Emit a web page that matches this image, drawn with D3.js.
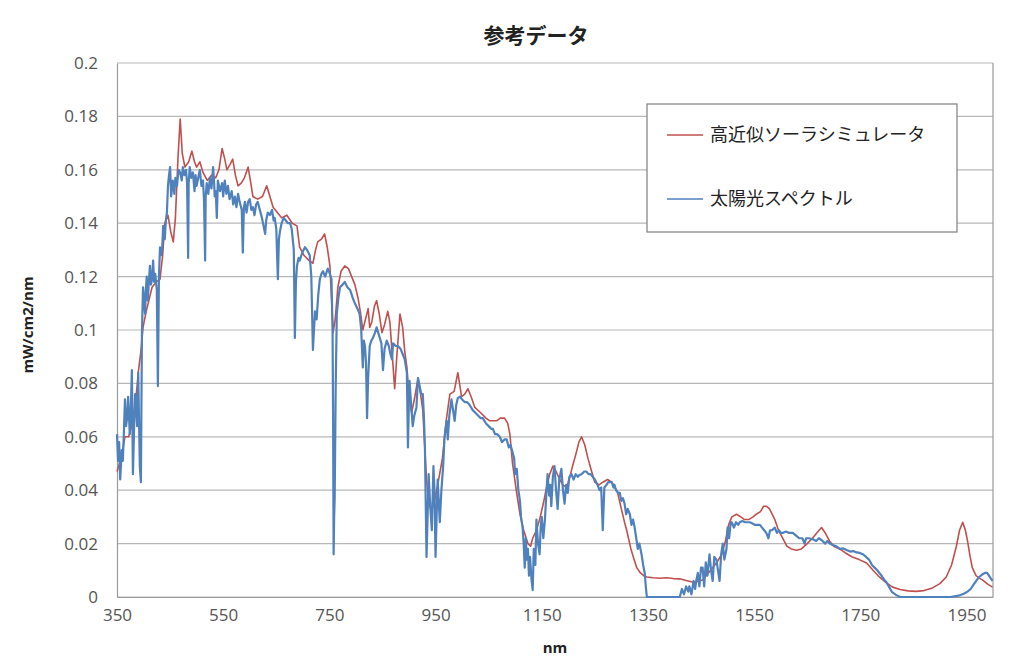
<!DOCTYPE html>
<meta charset="utf-8" />
<script src="https://cdn.jsdelivr.net/npm/d3@7"></script>
<style>
  body { margin: 0; background: #fff; }
  text { font-family: "Open Sans", "Noto Sans", sans-serif; }
  .jp { font-family: "Noto Sans CJK JP", "Noto Sans", sans-serif; }
</style>
<div id="chart"></div>
<script>
  // series names
  const seriesNames = ["高近似ソーラシミュレータ", "太陽光スペクトル"];

  // ticks
  const xTicks = [350, 550, 750, 950, 1150, 1350, 1550, 1750, 1950];
  const yTicks = [0, 0.02, 0.04, 0.06, 0.08, 0.1, 0.12, 0.14, 0.16, 0.18, 0.2];

  // simulator (red) - wavelength nm / mW/cm2/nm
  const simNm = [350,358,365,372,380,386,390,395,399,405,410,416,424,431,436,440,446,451,456,460,465,469,473,478,485,491,496,500,506,512,520,528,536,542,548,553,557,563,568,573,578,584,590,597,602,606,615,624,632,638,644,652,660,670,680,689,694,702,712,719,724,728,735,741,746,751,755,757,761,766,772,779,786,792,798,804,809,813,818,823,826,830,835,839,844,849,854,860,864,868,873,877,883,888,892,896,900,905,911,917,921,926,930,933,937,942,948,955,963,970,977,985,992,996,999,1005,1011,1017,1024,1035,1045,1052,1060,1065,1072,1080,1086,1090,1095,1102,1109,1116,1124,1129,1133,1140,1146,1153,1159,1165,1171,1177,1184,1190,1197,1203,1208,1215,1220,1225,1231,1237,1244,1250,1258,1265,1274,1282,1288,1293,1300,1306,1310,1318,1324,1329,1336,1342,1348,1360,1372,1385,1398,1410,1422,1434,1443,1453,1462,1472,1480,1489,1496,1502,1508,1517,1525,1532,1540,1548,1554,1562,1568,1573,1579,1584,1589,1596,1604,1612,1620,1630,1639,1650,1660,1668,1677,1684,1692,1700,1711,1722,1735,1748,1762,1774,1786,1798,1811,1825,1840,1855,1870,1886,1900,1912,1922,1931,1937,1943,1948,1952,1957,1961,1968,1975,1980,1990,1999];
  const simVal = [0.047,0.052,0.060,0.060,0.066,0.075,0.084,0.092,0.101,0.107,0.111,0.116,0.118,0.119,0.128,0.140,0.143,0.137,0.133,0.142,0.165,0.179,0.166,0.161,0.163,0.167,0.163,0.161,0.163,0.159,0.156,0.158,0.157,0.160,0.168,0.164,0.160,0.162,0.164,0.158,0.154,0.155,0.157,0.161,0.155,0.150,0.149,0.150,0.154,0.150,0.146,0.144,0.142,0.143,0.140,0.139,0.131,0.128,0.126,0.125,0.130,0.133,0.134,0.136,0.131,0.124,0.108,0.099,0.104,0.116,0.122,0.124,0.123,0.120,0.117,0.112,0.106,0.100,0.104,0.108,0.101,0.103,0.109,0.111,0.106,0.099,0.102,0.107,0.103,0.092,0.078,0.090,0.106,0.101,0.092,0.086,0.076,0.069,0.075,0.082,0.077,0.070,0.055,0.044,0.036,0.032,0.036,0.043,0.052,0.066,0.076,0.077,0.084,0.079,0.075,0.076,0.078,0.075,0.071,0.069,0.067,0.066,0.066,0.066,0.067,0.067,0.065,0.061,0.050,0.040,0.031,0.025,0.020,0.019,0.022,0.025,0.029,0.035,0.041,0.046,0.049,0.047,0.044,0.042,0.041,0.045,0.049,0.054,0.058,0.060,0.057,0.052,0.047,0.043,0.042,0.043,0.044,0.043,0.041,0.039,0.033,0.028,0.025,0.018,0.014,0.011,0.009,0.008,0.0075,0.0072,0.007,0.0072,0.0069,0.0068,0.0062,0.0056,0.0058,0.0064,0.0085,0.011,0.013,0.016,0.021,0.027,0.030,0.031,0.030,0.029,0.029,0.030,0.031,0.032,0.034,0.034,0.033,0.031,0.029,0.025,0.022,0.019,0.018,0.0175,0.018,0.020,0.022,0.024,0.026,0.024,0.021,0.019,0.018,0.0165,0.015,0.014,0.0127,0.010,0.0075,0.0055,0.0037,0.0028,0.0023,0.0021,0.0024,0.0034,0.005,0.0075,0.012,0.019,0.025,0.028,0.025,0.021,0.015,0.011,0.008,0.007,0.0064,0.0048,0.0037];

  // solar spectrum (blue)
  const sunNm = [350,352,354,356,359,361,363,365,367,369,371,373,374,376,378,380,382,384,386,388,390,392,393,395,397,399,401,403,404,406,408,410,412,414,416,418,420,422,424,425,427,429,431,433,435,437,439,440,442,444,446,448,450,452,453,455,458,460,463,466,469,472,474,477,480,482,484,485,487,490,493,496,498,500,503,506,509,512,514,516,517,519,522,525,528,531,533,534,536,538,540,544,548,550,553,556,559,562,566,569,572,575,578,581,585,587,589,591,594,597,600,603,606,609,612,615,619,623,626,629,631,634,638,642,645,647,650,653,655,657,660,664,668,672,676,679,681,683,685,687,689,692,694,699,704,708,713,716,719,721,723,726,729,732,735,738,742,747,751,754,756,757,758,759,760,762,764,767,770,775,779,784,789,794,798,803,807,810,813,815,817,819,821,823,826,829,832,836,839,842,845,848,851,854,858,862,865,868,870,875,879,884,888,892,896,898,900,901,904,907,910,914,917,920,923,926,928,930,933,935,937,940,943,946,948,950,952,954,956,958,961,964,967,971,973,976,980,983,986,989,992,996,1000,1005,1009,1014,1020,1025,1030,1035,1039,1045,1050,1055,1058,1062,1066,1071,1075,1080,1084,1088,1091,1094,1098,1100,1103,1106,1109,1111,1114,1116,1118,1120,1122,1124,1126,1128,1131,1133,1135,1138,1140,1143,1146,1148,1150,1153,1156,1158,1161,1164,1166,1168,1171,1174,1177,1180,1183,1187,1190,1193,1196,1199,1202,1206,1210,1214,1218,1221,1225,1230,1234,1238,1242,1246,1250,1255,1259,1262,1265,1267,1268,1272,1275,1278,1282,1285,1287,1290,1294,1297,1300,1303,1306,1309,1312,1316,1319,1322,1325,1328,1331,1334,1338,1341,1344,1346,1348,1380,1410,1414,1418,1422,1426,1428,1432,1436,1439,1441,1444,1447,1450,1453,1456,1459,1462,1466,1469,1472,1475,1479,1482,1485,1488,1491,1494,1498,1500,1503,1506,1508,1512,1516,1520,1523,1528,1533,1538,1542,1547,1552,1556,1561,1565,1569,1573,1577,1580,1584,1589,1593,1597,1600,1604,1610,1616,1623,1629,1635,1641,1645,1648,1653,1660,1667,1672,1679,1684,1688,1693,1698,1705,1712,1718,1724,1731,1737,1743,1749,1755,1761,1767,1772,1777,1782,1786,1790,1795,1799,1805,1810,1818,1825,1870,1920,1935,1945,1952,1958,1964,1970,1974,1980,1985,1989,1994,1999];
  const sunVal = [0.061,0.051,0.058,0.044,0.055,0.051,0.062,0.074,0.064,0.067,0.075,0.066,0.061,0.070,0.085,0.046,0.062,0.076,0.071,0.064,0.084,0.060,0.049,0.043,0.099,0.116,0.110,0.106,0.114,0.120,0.111,0.118,0.124,0.117,0.119,0.126,0.118,0.121,0.117,0.115,0.079,0.120,0.131,0.128,0.130,0.139,0.135,0.134,0.141,0.144,0.154,0.158,0.161,0.150,0.152,0.156,0.151,0.157,0.154,0.160,0.159,0.156,0.161,0.158,0.160,0.155,0.127,0.155,0.161,0.157,0.159,0.152,0.158,0.154,0.157,0.160,0.154,0.156,0.148,0.126,0.150,0.155,0.151,0.157,0.153,0.161,0.155,0.150,0.152,0.142,0.156,0.152,0.155,0.150,0.156,0.151,0.154,0.149,0.152,0.147,0.150,0.146,0.151,0.148,0.145,0.129,0.146,0.148,0.144,0.148,0.149,0.145,0.146,0.143,0.147,0.148,0.145,0.142,0.139,0.136,0.141,0.144,0.143,0.145,0.141,0.142,0.138,0.119,0.134,0.137,0.140,0.142,0.141,0.140,0.140,0.138,0.134,0.130,0.097,0.118,0.124,0.127,0.126,0.129,0.131,0.130,0.128,0.120,0.0925,0.100,0.107,0.104,0.113,0.119,0.121,0.122,0.120,0.123,0.121,0.119,0.100,0.069,0.016,0.030,0.037,0.080,0.106,0.112,0.116,0.117,0.118,0.116,0.115,0.112,0.110,0.108,0.106,0.100,0.086,0.096,0.094,0.088,0.067,0.082,0.094,0.096,0.097,0.099,0.101,0.099,0.097,0.095,0.085,0.093,0.096,0.094,0.091,0.089,0.095,0.094,0.094,0.093,0.091,0.089,0.084,0.056,0.075,0.081,0.072,0.064,0.068,0.071,0.082,0.079,0.076,0.076,0.068,0.056,0.015,0.030,0.046,0.034,0.025,0.049,0.040,0.015,0.030,0.044,0.036,0.028,0.040,0.048,0.060,0.066,0.059,0.068,0.074,0.070,0.066,0.072,0.0745,0.075,0.074,0.073,0.073,0.072,0.070,0.069,0.068,0.067,0.067,0.065,0.064,0.063,0.063,0.061,0.061,0.060,0.058,0.059,0.059,0.056,0.057,0.055,0.052,0.046,0.048,0.040,0.036,0.030,0.026,0.020,0.011,0.022,0.014,0.018,0.008,0.015,0.006,0.0026,0.018,0.012,0.029,0.020,0.016,0.026,0.030,0.022,0.029,0.036,0.046,0.038,0.042,0.034,0.045,0.049,0.040,0.033,0.044,0.048,0.040,0.035,0.042,0.039,0.045,0.046,0.044,0.046,0.045,0.0457,0.046,0.047,0.047,0.046,0.046,0.045,0.044,0.042,0.040,0.041,0.025,0.036,0.041,0.042,0.043,0.043,0.043,0.041,0.042,0.040,0.039,0.039,0.036,0.037,0.035,0.031,0.033,0.031,0.027,0.029,0.026,0.022,0.018,0.020,0.016,0.012,0.009,0.004,0,0,0,0.003,0.001,0.004,0.002,0.004,0.001,0.006,0.003,0.006,0.009,0.004,0.011,0.011,0.004,0.013,0.008,0.016,0.010,0.006,0.015,0.014,0.010,0.006,0.016,0.020,0.014,0.018,0.026,0.022,0.028,0.028,0.026,0.028,0.027,0.028,0.0285,0.028,0.028,0.028,0.0275,0.027,0.027,0.027,0.026,0.025,0.024,0.022,0.025,0.025,0.026,0.024,0.025,0.024,0.024,0.0245,0.024,0.024,0.023,0.022,0.022,0.020,0.022,0.022,0.0217,0.021,0.022,0.021,0.020,0.021,0.020,0.0195,0.019,0.018,0.0182,0.0176,0.017,0.0172,0.0167,0.0165,0.016,0.015,0.0139,0.012,0.011,0.010,0.009,0.008,0.0065,0.0056,0.0035,0.0018,0.0007,0,0,0,0.0005,0.0012,0.002,0.003,0.0048,0.0065,0.0075,0.0085,0.009,0.009,0.0075,0.006];

  const colors = ["#C0504D", "#4F81BD"];

  const W = 1024, H = 665;
  const margin = { top: 63, right: 31, bottom: 68, left: 117 },
    width = W - margin.left - margin.right,
    height = H - margin.top - margin.bottom;

  const svg = d3.select("#chart").append("svg")
    .attr("width", W).attr("height", H);

  const g = svg.append("g")
    .attr("transform", `translate(${margin.left},${margin.top})`);

  const x = d3.scaleLinear().domain([350, 2000]).range([0, width]);
  const y = d3.scaleLinear().domain([0, 0.2]).range([height, 0]);

  // gridlines
  g.append("g")
    .selectAll("line")
    .data(yTicks)
    .join("line")
    .attr("x1", 0).attr("x2", width)
    .attr("y1", d => y(d)).attr("y2", d => y(d))
    .attr("stroke", "#b8b8b8").attr("stroke-width", 1.2);

  // plot border (right edge)
  g.append("line")
    .attr("x1", width).attr("x2", width)
    .attr("y1", 0).attr("y2", height)
    .attr("stroke", "#9a9a9a").attr("stroke-width", 1.2);

  // y axis
  const yAxis = g.append("g")
    .call(d3.axisLeft(y).tickValues(yTicks).tickSize(0).tickPadding(19)
      .tickFormat(d => String(+d.toFixed(2))));
  yAxis.select(".domain").attr("stroke", "#9a9a9a").attr("stroke-width", 1.2);
  yAxis.selectAll("text").style("font-size", "17px").attr("fill", "#555")
    .style("font-family", "'Open Sans', sans-serif");

  // x axis
  const xAxis = g.append("g")
    .attr("transform", `translate(0,${height})`)
    .call(d3.axisBottom(x).tickValues(xTicks).tickSize(0).tickPadding(12)
      .tickFormat(d3.format("d")));
  xAxis.select(".domain").attr("stroke", "#9a9a9a").attr("stroke-width", 1.2);
  xAxis.selectAll("text").style("font-size", "17px").attr("fill", "#555")
    .style("font-family", "'Open Sans', sans-serif");

  // lines
  const series = [
    simNm.map((d, i) => [d, simVal[i]]),
    sunNm.map((d, i) => [d, sunVal[i]]),
  ];
  const line = d3.line().x(d => x(d[0])).y(d => y(d[1]));

  g.selectAll(".series")
    .data(series)
    .join("path")
    .attr("class", "series")
    .attr("d", line)
    .attr("fill", "none")
    .attr("stroke", (d, i) => colors[i])
    .attr("stroke-width", (d, i) => (i === 0 ? 1.6 : 2.2))
    .attr("stroke-linejoin", "round");

  // title
  svg.append("text")
    .attr("class", "jp")
    .attr("x", 536).attr("y", 43)
    .attr("text-anchor", "middle")
    .style("font-size", "21px").style("font-weight", "bold")
    .attr("fill", "#222")
    .text("参考データ");

  // axis titles
  svg.append("text")
    .attr("transform", "translate(33,325) rotate(-90)")
    .attr("text-anchor", "middle")
    .style("font-size", "15px").style("font-weight", "bold")
    .attr("fill", "#222")
    .text("mW/cm2/nm");

  svg.append("text")
    .attr("x", 555).attr("y", 653)
    .attr("text-anchor", "middle")
    .style("font-size", "15px").style("font-weight", "bold")
    .attr("fill", "#222")
    .text("nm");

  // legend
  const legend = svg.append("g").attr("transform", "translate(647,104)");
  legend.append("rect")
    .attr("width", 310).attr("height", 128)
    .attr("fill", "#fff").attr("stroke", "#7f7f7f").attr("stroke-width", 1.2);

  const items = legend.selectAll(".item")
    .data(seriesNames)
    .join("g")
    .attr("class", "item")
    .attr("transform", (d, i) => `translate(0,${31 + i * 64})`);
  items.append("line")
    .attr("x1", 20).attr("x2", 56)
    .attr("stroke", (d, i) => colors[i]).attr("stroke-width", 1.6);
  items.append("text")
    .attr("class", "jp")
    .attr("x", 63).attr("dy", "0.36em")
    .style("font-size", "18px")
    .attr("fill", "#222")
    .text(d => d);
</script>
